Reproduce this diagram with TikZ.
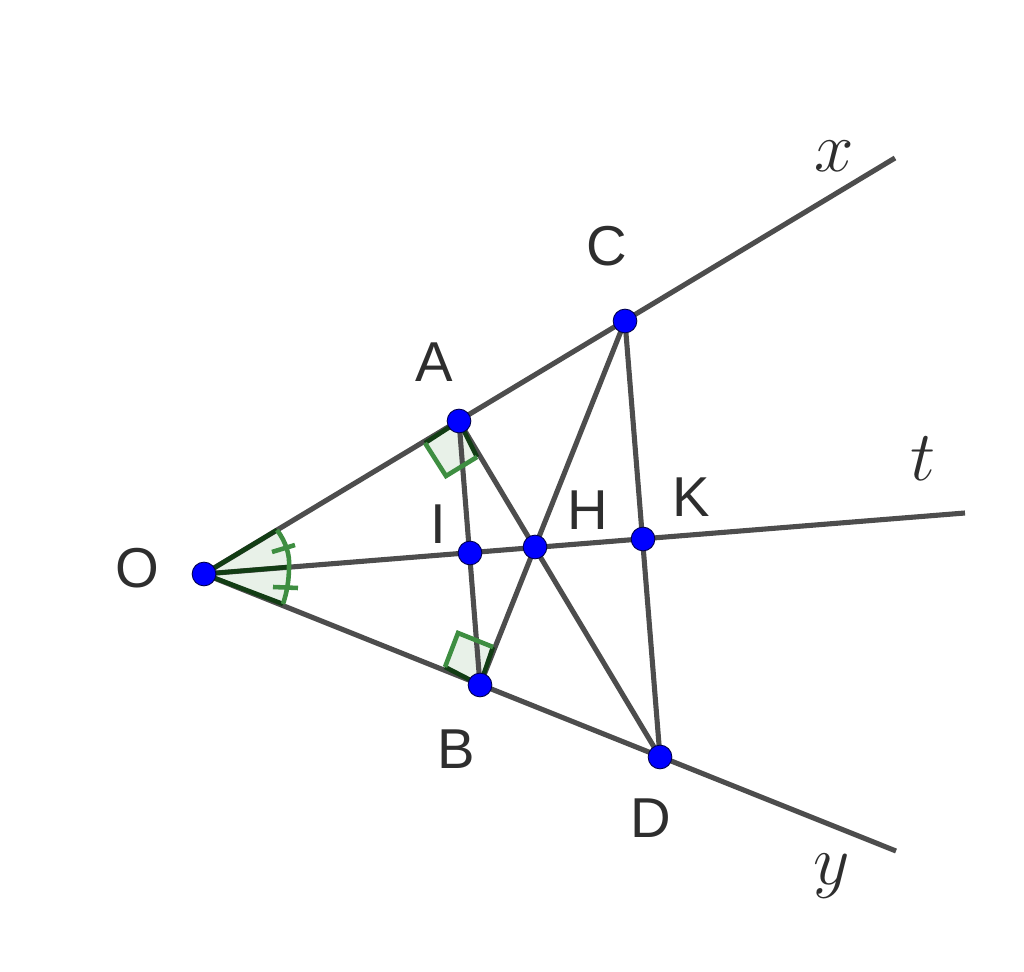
\documentclass[tikz,border=0pt]{standalone}
\usepackage{fontspec}
\setmainfont{Liberation Sans}
\definecolor{lineg}{HTML}{4D4D4D}
\definecolor{markg}{HTML}{3E8E41}
\definecolor{edgeg}{HTML}{123D14}
\definecolor{lab}{HTML}{2E2E2E}
\tikzset{
  pt/.style={circle,fill=blue,draw=black!70!blue,line width=0.5pt,minimum size=13.5pt,inner sep=0pt},
  seg/.style={draw=lineg,line width=2.9pt},
  lbl/.style={text=lab,font=\fontsize{32}{32}\selectfont,inner sep=0pt,anchor=center},
  mlbl/.style={text=lab,inner sep=0pt,anchor=center},
  sector/.style={fill=markg,fill opacity=0.12,draw=none},
  rightmark/.style={draw=markg,line width=2.6pt,line join=miter},
  edge/.style={draw=edgeg,line width=2.6pt},
  arcmark/.style={draw=markg,line width=2.6pt},
}
\newcommand{\biglabel}[1]{\scalebox{1.62}{\fontsize{24}{24}\selectfont$#1$}}
\begin{document}
\begin{tikzpicture}[x=0.02cm,y=-0.02cm]
\useasboundingbox (0,0) rectangle (1024,972);
% free ends
\coordinate (X) at (895,158);
\coordinate (Y) at (896,851);
\coordinate (T) at (965,513);
\coordinate (O0) at (204,574);
\coordinate (A0) at (459,421);
\coordinate (B0) at (480,685);
\coordinate (C0) at (625,321);
\coordinate (D0) at (660,757);
\coordinate (I0) at (470,553);
\coordinate (H0) at (535,547);
\coordinate (K0) at (643,539);
% shaded marks
\fill[sector] (O0) -- (277,530) .. controls (286,542) and (290,555) .. (289,567) -- cycle;
\fill[sector] (O0) -- (289,567) .. controls (289,580) and (287,592) .. (283,604) -- cycle;
\fill[sector] (A0) -- (425,443) -- (446,476) -- (477,457) -- cycle;
\fill[sector] (B0) -- (445,667) -- (458,633) -- (493,647) -- cycle;
% lines
\draw[seg] (O0) -- (X);
\draw[seg] (O0) -- (Y);
\draw[seg] (O0) -- (T);
\draw[seg] (A0) -- (B0);
\draw[seg] (C0) -- (D0);
\draw[seg] (A0) -- (D0);
\draw[seg] (B0) -- (C0);
% angle edges
\draw[edge] (O0) -- (277,530);
\draw[edge] (O0) -- (289,567);
\draw[edge] (O0) -- (283,604);
\draw[edge] (A0) -- (425,443);
\draw[edge] (A0) -- (477,457);
\draw[edge] (B0) -- (445,667);
\draw[edge] (B0) -- (493,647);
% arcs and ticks
\draw[arcmark] (277,530) .. controls (286,542) and (290,555) .. (289,567) .. controls (289,580) and (287,592) .. (283,604);
\draw[arcmark] (272,552) -- (295,545);
\draw[arcmark] (273,587) -- (298,588);
% right angle marks
\draw[rightmark] (425,443) -- (446,476) -- (477,457);
\draw[rightmark] (445,667) -- (458,633) -- (493,647);
% points
\node[pt] (O) at (O0) {};
\node[pt] (A) at (A0) {};
\node[pt] (B) at (B0) {};
\node[pt] (C) at (C0) {};
\node[pt] (D) at (D0) {};
\node[pt] (I) at (I0) {};
\node[pt] (H) at (H0) {};
\node[pt] (K) at (K0) {};
% labels
\node[lbl] (lO) at (137,568) {O};
\node[lbl] (lA) at (434,362) {A};
\node[lbl] (lB) at (456,749) {B};
\node[lbl] (lC) at (607,246) {C};
\node[lbl] (lD) at (651,818) {D};
\node[lbl] (lI) at (438,524) {I};
\node[lbl] (lH) at (588,510) {H};
\node[lbl] (lK) at (691,497) {K};
\node[mlbl] (lx) at (834,156) {\biglabel{x}};
\node[mlbl] (lt) at (923,459) {\biglabel{t}};
\node[mlbl] (ly) at (832,876) {\biglabel{y}};
\end{tikzpicture}
\end{document}
